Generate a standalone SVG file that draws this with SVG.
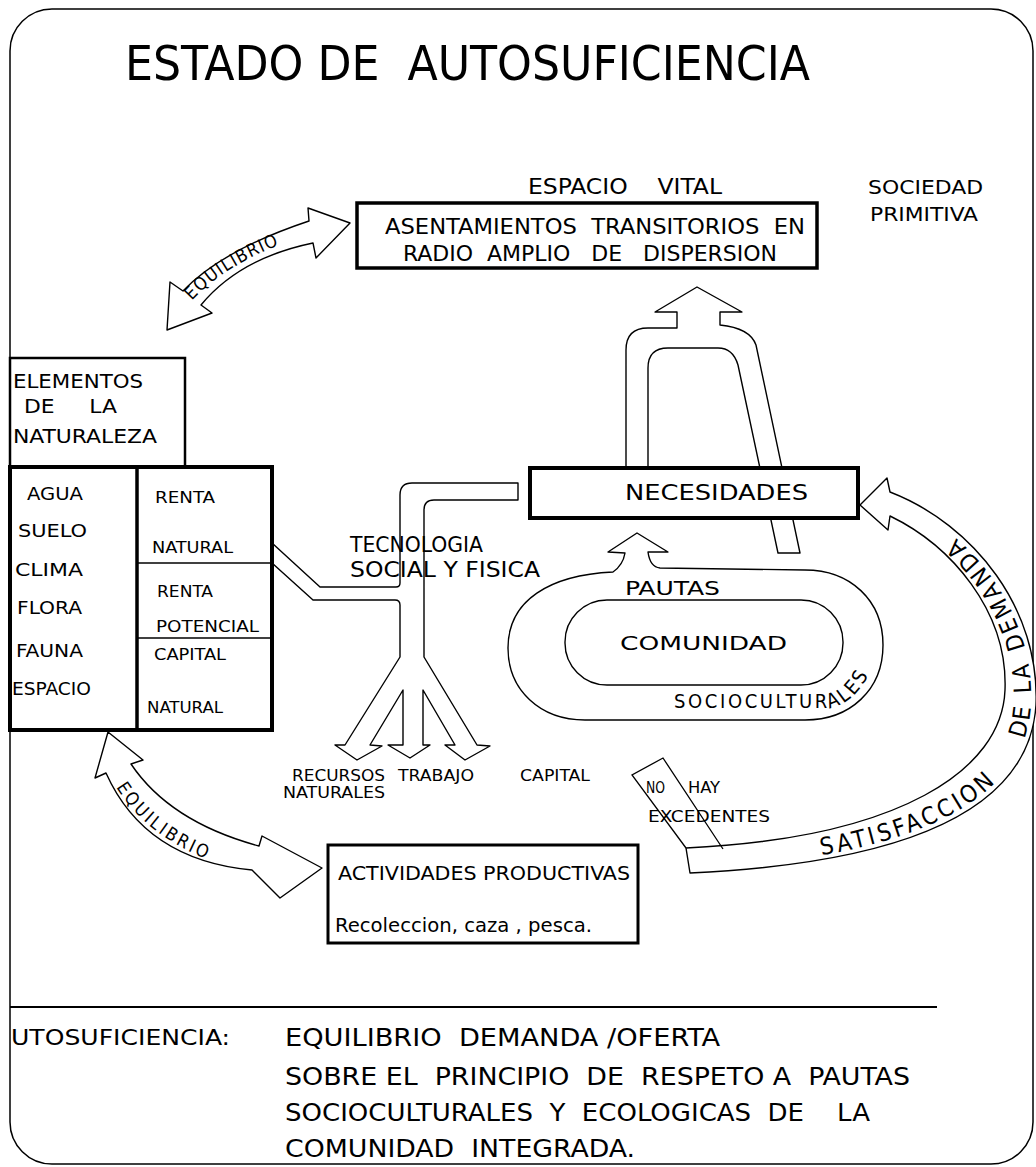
<svg xmlns="http://www.w3.org/2000/svg" width="1036" height="1167" viewBox="0 0 1036 1167">
<style>
.t{font-family:"DejaVu Sans Condensed","DejaVu Sans","Liberation Sans",sans-serif;fill:#000;white-space:pre}
.shape{fill:#fff;stroke:#000;stroke-width:1.4;stroke-linejoin:round}
.box{fill:#fff;stroke:#000}
.ln{fill:none;stroke:#000}
</style>
<rect x="0" y="0" width="1036" height="1167" fill="#fff"/>
<rect x="10" y="9" width="1023" height="1155" rx="42" class="ln" stroke-width="1.5"/>

<text class="t" x="125" y="80" font-size="48" textLength="685" lengthAdjust="spacingAndGlyphs">ESTADO DE  AUTOSUFICIENCIA</text>

<g id="connectors">
  <path id="eq-top" class="shape" d="M167,330 L170,282 L183,291 Q222,250 309,221 L308,208 L350,223 L316,258 L313,243 Q240,258 201,305 L212,313 Z"/>
  <path id="eq-bottom" class="shape" d="M108,732 L143,760 L131,764 Q170,822 259,846 L262,836 L322,868 L280,898 L252,870 Q145,860 106,773 L95,778 Z"/>
  <path id="tecnologia" class="shape" d="M272,543 L320,587 L396,587 Q400,587 400,583 L400,495 Q400,483 412,483 L518,483 L518,500 L434,500 Q424,500 424,510 L424,657 L477,745 L490,746 L465,760 L445,745 L455,745 L423,690 L423,745 L430,745 L410,758 L388,745 L403,745 L403,690 L370,745 L382,746 L357,760 L335,745 L345,745 L400,657 L400,605 Q400,600 395,600 L313,600 L272,563"/>
  <path id="u-arrow" class="shape" d="M626,468 L626,350 Q626,328 648,328 L677,328 L677,312 L655,312 L697,287 L742,312 L720,312 L720,325 Q750,328 756,345 L800,553 L778,553 L738,365 Q733,348 718,348 L668,348 Q648,348 648,368 L648,468 Z"/>
  <path id="satisfaccion" class="shape" d="M860,505 L887,478 L890,492 C975,525 1040,610 1036,705 C1030,800 930,862 690,873 L686,848 C900,838 1002,770 1005,690 C1008,610 950,545 890,516 L888,530 Z"/>
  <path id="excedentes" class="ln" stroke-width="1.3" d="M686,848 L632,775 L663,758 L723,849"/>
  <path id="pautas-loop" class="shape" d="M613,572 Q623,565 625,553 L608,552 L637,533 L668,552 L648,552 Q650,567 660,568 L805,570 C850,570 883,600 883,645 C883,690 850,720 805,720 L585,720 C540,720 508,690 508,648 C508,600 550,575 613,572 Z"/>
  <rect class="shape" x="565" y="600" width="278" height="85" rx="42"/>
  <path id="tp-eq1" d="M190,303 Q225,262 304,236" fill="none"/>
  <path id="tp-eq2" d="M113,782 Q150,846 238,869" fill="none"/>
  <path id="tp-soc" d="M674,708 L830,708 Q865,700 878,648" fill="none"/>
  <path id="tp-sat" d="M700,868 C925,857 1026,795 1031,705 C1035,612 970,528 892,500" fill="none"/>
  <text class="t" font-size="18" letter-spacing="1.2"><textPath href="#tp-eq1" startOffset="3">EQUILIBRIO</textPath></text>
  <text class="t" font-size="18" letter-spacing="2.6"><textPath href="#tp-eq2" startOffset="6">EQUILIBRIO</textPath></text>
  <text class="t" font-size="20" letter-spacing="2.6"><textPath href="#tp-soc">SOCIOCULTURALES</textPath></text>
  <text class="t" font-size="24" letter-spacing="3.3"><textPath href="#tp-sat" startOffset="122">SATISFACCION</textPath></text>
  <text class="t" font-size="24" letter-spacing="2"><textPath href="#tp-sat" startOffset="366">DE</textPath></text>
  <text class="t" font-size="24" letter-spacing="2"><textPath href="#tp-sat" startOffset="413">LA</textPath></text>
  <text class="t" font-size="24" letter-spacing="3.5"><textPath href="#tp-sat" startOffset="458">DEMANDA</textPath></text>
</g>

<g id="asentamientos">
  <rect class="box" x="357" y="203" width="460" height="65" stroke-width="3.5"/>
  <text class="t" x="385" y="234" font-size="22" textLength="420" lengthAdjust="spacingAndGlyphs">ASENTAMIENTOS  TRANSITORIOS  EN</text>
  <text class="t" x="403" y="261" font-size="22" textLength="374" lengthAdjust="spacingAndGlyphs">RADIO  AMPLIO   DE   DISPERSION</text>
</g>
<g id="espacio-vital">
  <text class="t" x="528" y="194" font-size="21" textLength="194" lengthAdjust="spacingAndGlyphs">ESPACIO    VITAL</text>
</g>
<g id="sociedad">
  <text class="t" x="868" y="194" font-size="20" textLength="115" lengthAdjust="spacingAndGlyphs">SOCIEDAD</text>
  <text class="t" x="870" y="221" font-size="20" textLength="108" lengthAdjust="spacingAndGlyphs">PRIMITIVA</text>
</g>

<g id="elementos">
  <rect class="box" x="10" y="358" width="175" height="109" stroke-width="2.5"/>
  <text class="t" x="13" y="388" font-size="20" textLength="130" lengthAdjust="spacingAndGlyphs">ELEMENTOS</text>
  <text class="t" x="24" y="413" font-size="20" textLength="93" lengthAdjust="spacingAndGlyphs">DE     LA</text>
  <text class="t" x="13" y="443" font-size="20" textLength="144" lengthAdjust="spacingAndGlyphs">NATURALEZA</text>
</g>

<g id="tabla">
  <rect class="box" x="10" y="467" width="262" height="263" stroke-width="4"/>
  <line class="ln" x1="137" y1="467" x2="137" y2="730" stroke-width="3.5"/>
  <line class="ln" x1="137" y1="563" x2="272" y2="563" stroke-width="1.5"/>
  <line class="ln" x1="137" y1="638" x2="272" y2="638" stroke-width="1.5"/>
  <text class="t" x="27" y="500" font-size="18" textLength="56" lengthAdjust="spacingAndGlyphs">AGUA</text>
  <text class="t" x="18" y="537" font-size="18" textLength="69" lengthAdjust="spacingAndGlyphs">SUELO</text>
  <text class="t" x="15" y="576" font-size="18" textLength="68" lengthAdjust="spacingAndGlyphs">CLIMA</text>
  <text class="t" x="17" y="614" font-size="18" textLength="65" lengthAdjust="spacingAndGlyphs">FLORA</text>
  <text class="t" x="16" y="657" font-size="18" textLength="67" lengthAdjust="spacingAndGlyphs">FAUNA</text>
  <text class="t" x="12" y="695" font-size="18" textLength="79" lengthAdjust="spacingAndGlyphs">ESPACIO</text>
  <text class="t" x="155" y="503" font-size="16" textLength="60" lengthAdjust="spacingAndGlyphs">RENTA</text>
  <text class="t" x="152" y="553" font-size="16" textLength="81" lengthAdjust="spacingAndGlyphs">NATURAL</text>
  <text class="t" x="157" y="597" font-size="16" textLength="56" lengthAdjust="spacingAndGlyphs">RENTA</text>
  <text class="t" x="156" y="632" font-size="16" textLength="103" lengthAdjust="spacingAndGlyphs">POTENCIAL</text>
  <text class="t" x="154" y="660" font-size="16" textLength="72" lengthAdjust="spacingAndGlyphs">CAPITAL</text>
  <text class="t" x="147" y="713" font-size="16" textLength="76" lengthAdjust="spacingAndGlyphs">NATURAL</text>
</g>

<g id="tecnologia-label">
  <text class="t" x="350" y="552" font-size="21" textLength="133" lengthAdjust="spacingAndGlyphs">TECNOLOGIA</text>
  <text class="t" x="350" y="577" font-size="21" textLength="190" lengthAdjust="spacingAndGlyphs">SOCIAL Y FISICA</text>
</g>
<g id="recursos">
  <text class="t" x="292" y="781" font-size="15" textLength="93" lengthAdjust="spacingAndGlyphs">RECURSOS</text>
  <text class="t" x="283" y="798" font-size="15" textLength="102" lengthAdjust="spacingAndGlyphs">NATURALES</text>
  <text class="t" x="398" y="781" font-size="15" textLength="76" lengthAdjust="spacingAndGlyphs">TRABAJO</text>
  <text class="t" x="520" y="781" font-size="15" textLength="70" lengthAdjust="spacingAndGlyphs">CAPITAL</text>
</g>

<g id="necesidades">
  <rect class="box" x="530" y="468" width="328" height="50" stroke-width="4"/>
  <text class="t" x="625" y="500" font-size="22" textLength="183" lengthAdjust="spacingAndGlyphs">NECESIDADES</text>
</g>

<g id="comunidad">
  <text class="t" x="625" y="595" font-size="20" textLength="95" lengthAdjust="spacingAndGlyphs">PAUTAS</text>
  <text class="t" x="620" y="650" font-size="20" textLength="167" lengthAdjust="spacingAndGlyphs">COMUNIDAD</text>
</g>

<g id="no-hay">
  <text class="t" x="646" y="793" font-size="16" textLength="19" lengthAdjust="spacingAndGlyphs">NO</text>
  <text class="t" x="688" y="793" font-size="16" textLength="32" lengthAdjust="spacingAndGlyphs">HAY</text>
  <text class="t" x="648" y="822" font-size="16" textLength="122" lengthAdjust="spacingAndGlyphs">EXCEDENTES</text>
</g>

<g id="actividades">
  <rect class="box" x="328" y="845" width="310" height="98" stroke-width="3"/>
  <text class="t" x="338" y="880" font-size="20" textLength="292" lengthAdjust="spacingAndGlyphs">ACTIVIDADES PRODUCTIVAS</text>
  <text class="t" x="335" y="932" font-size="19" textLength="257" lengthAdjust="spacingAndGlyphs">Recoleccion, caza , pesca.</text>
</g>

<g id="definicion">
  <line class="ln" x1="10" y1="1007" x2="937" y2="1007" stroke-width="2"/>
  <text class="t" x="11" y="1045" font-size="22" textLength="219" lengthAdjust="spacingAndGlyphs">UTOSUFICIENCIA:</text>
  <text class="t" x="285" y="1046" font-size="24" textLength="435" lengthAdjust="spacingAndGlyphs">EQUILIBRIO  DEMANDA /OFERTA</text>
  <text class="t" x="285" y="1085" font-size="24" textLength="625" lengthAdjust="spacingAndGlyphs">SOBRE EL  PRINCIPIO  DE  RESPETO A  PAUTAS</text>
  <text class="t" x="285" y="1121" font-size="24" textLength="585" lengthAdjust="spacingAndGlyphs">SOCIOCULTURALES  Y  ECOLOGICAS  DE    LA</text>
  <text class="t" x="285" y="1157" font-size="24" textLength="350" lengthAdjust="spacingAndGlyphs">COMUNIDAD  INTEGRADA.</text>
</g>
</svg>
